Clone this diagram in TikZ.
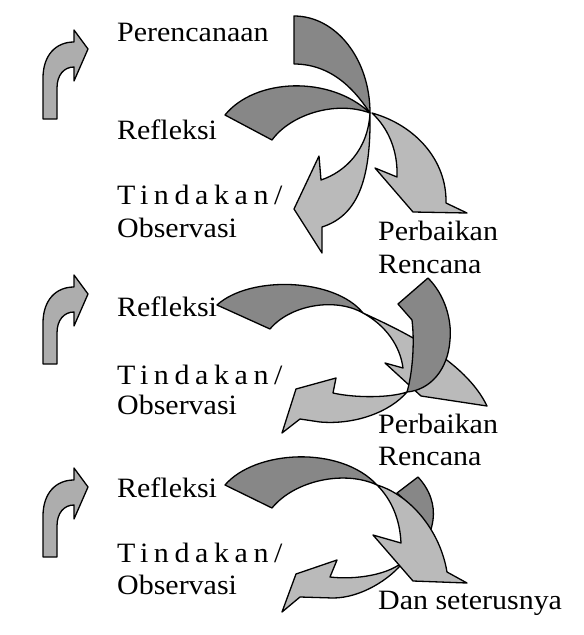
\documentclass[tikz,border=0pt]{standalone}
\usepackage{fontspec}
\setmainfont{Liberation Serif}[FakeStretch=1.07]
\definecolor{ribdark}{gray}{0.53}
\definecolor{riblight}{gray}{0.73}
\definecolor{bentfill}{gray}{0.68}
\begin{document}
\begin{tikzpicture}[x=1pt,y=-1pt,
  ribbon/.style={draw=black,line width=1.3pt,line join=round},
  darkrib/.style={ribbon,fill=ribdark},
  lightrib/.style={ribbon,fill=riblight},
  bentstyle/.style={ribbon,fill=bentfill},
  lbl/.style={anchor=base west,inner sep=0pt,font=\fontsize{28}{28}\selectfont},
  spaced/.style={lbl,font=\fontsize{28}{28}\selectfont\addfontfeature{LetterSpace=20}},
  bentarrow/.pic={\draw[bentstyle] (0,0) -- (14,19) -- (0,51) -- (0,37)
     .. controls (-10,37) and (-17,45) .. (-17,58) -- (-17,89) -- (-31,89) -- (-31,48)
     .. controls (-31,25) and (-18,12) .. (0,12) -- cycle;}]
\useasboundingbox[fill=white] (0,0) rectangle (584,635);

% left bent arrows
\pic at (74,30) {bentarrow};
\pic at (74,275) {bentarrow};
\pic at (74,468) {bentarrow};

% texts
\node[lbl] (per) at (117,41) {Perencanaan};
\node[lbl] (ref1) at (117,139) {Refleksi};
\node[spaced] (tin1) at (117,204) {Tindakan/};
\node[lbl] (obs1) at (117,237) {Observasi};
\node[lbl] (pb1) at (378,240) {Perbaikan};
\node[lbl] (rc1) at (378,273) {Rencana};
\node[lbl] (ref2) at (117,316) {Refleksi};
\node[spaced] (tin2) at (117,384) {Tindakan/};
\node[lbl] (obs2) at (117,414) {Observasi};
\node[lbl] (pb2) at (378,433) {Perbaikan};
\node[lbl] (rc2) at (378,465) {Rencana};
\node[lbl] (ref3) at (117,497) {Refleksi};
\node[spaced] (tin3) at (117,562) {Tindakan/};
\node[lbl] (obs3) at (117,594) {Observasi};
\node[lbl] (dan) at (378,609) {Dan seterusnya};

% top cluster
\draw[darkrib] (294,16) .. controls (336,16) and (370,59) .. (370,113)
   .. controls (358,95) and (335,64) .. (294,64) -- cycle;
\draw[darkrib] (225,115) .. controls (255,78) and (330,75) .. (370,113)
   .. controls (335,100) and (290,115) .. (272,140) -- cycle;
\draw[lightrib] (370,113) .. controls (371,175) and (360,215) .. (322,227)
   -- (322,253) -- (294,209) -- (319,156) -- (321,180)
   .. controls (345,172) and (368,150) .. (370,113) -- cycle;
\draw[lightrib] (372,113) .. controls (415,125) and (447,160) .. (446,203)
   -- (467,213) -- (413,212) -- (375,168) -- (397,177)
   .. controls (398,150) and (388,128) .. (372,113) -- cycle;

% middle cluster
\draw[lightrib] (363,313) .. controls (400,330) and (465,360) .. (487,406)
   -- (421,396) -- (385,363) -- (403,368)
   .. controls (400,345) and (385,325) .. (363,313) -- cycle;
\draw[darkrib] (217,305) .. controls (250,275) and (335,278) .. (363,313)
   .. controls (335,297) and (290,305) .. (270,329) -- cycle;
\draw[lightrib] (407,392) .. controls (390,412) and (355,425) .. (320,422)
   -- (300,419) -- (282,433) -- (296,389) -- (336,378) -- (333,393)
   .. controls (355,398) and (390,398) .. (407,392) -- cycle;
\draw[darkrib] (428,278) .. controls (445,295) and (452,320) .. (450,340)
   .. controls (448,370) and (430,390) .. (407,392)
   .. controls (412,375) and (415,345) .. (412,320) -- (398,304) -- cycle;

% bottom cluster
\draw[darkrib] (418,477) .. controls (430,490) and (435,505) .. (433,520)
   .. controls (430,540) and (420,555) .. (405,560)
   .. controls (410,540) and (410,520) .. (408,503) -- (397,493) -- cycle;
\draw[lightrib] (405,560) .. controls (390,580) and (360,598) .. (333,598)
   -- (300,597) -- (282,612) -- (296,574) -- (337,560) -- (330,577)
   .. controls (355,580) and (390,575) .. (405,560) -- cycle;
\draw[darkrib] (225,485) .. controls (255,450) and (340,445) .. (377,485)
   .. controls (345,470) and (295,480) .. (272,508) -- cycle;
\draw[lightrib] (377,485) .. controls (410,495) and (440,530) .. (447,572)
   -- (467,583) -- (413,581) -- (373,535) -- (401,543)
   .. controls (400,520) and (392,500) .. (377,485) -- cycle;
\end{tikzpicture}
\end{document}
